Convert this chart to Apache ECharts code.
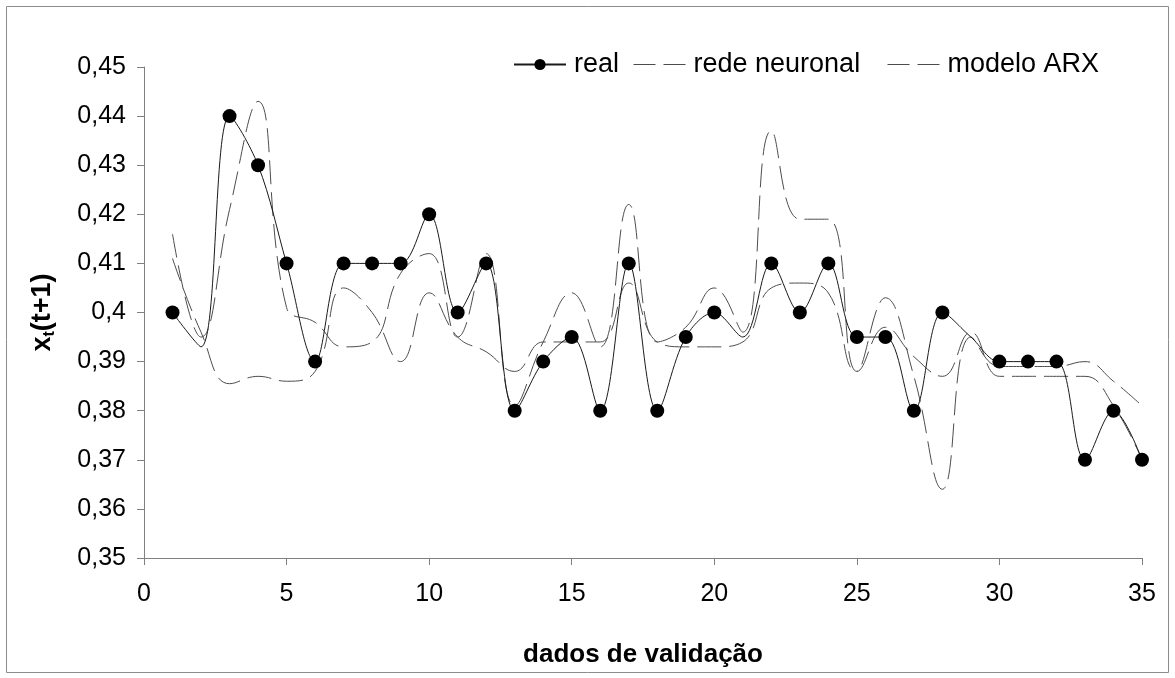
<!DOCTYPE html>
<html>
<head>
<meta charset="utf-8">
<script src="https://cdn.jsdelivr.net/npm/echarts@6/dist/echarts.min.js"></script>
<style>
  html, body { margin: 0; padding: 0; background: #fff; }
  #chart { width: 1175px; height: 678px; }
</style>
</head>
<body>
<div id="chart"></div>
<script>
// dados de validação (1..35)
const xs = [1, 2, 3, 4, 5, 6, 7, 8, 9, 10, 11, 12, 13, 14, 15, 16, 17, 18, 19, 20,
  21, 22, 23, 24, 25, 26, 27, 28, 29, 30, 31, 32, 33, 34, 35]

const real = [0.40, 0.393, 0.44, 0.43, 0.41, 0.39, 0.41, 0.41, 0.41, 0.42,
  0.40, 0.41, 0.38, 0.39, 0.395, 0.38, 0.41, 0.38, 0.395, 0.40,
  0.395, 0.41, 0.40, 0.41, 0.395, 0.395, 0.38, 0.40, 0.395, 0.39,
  0.39, 0.39, 0.37, 0.38, 0.37]

const redeNeuronal = [0.416, 0.395, 0.421, 0.443, 0.401, 0.398, 0.393, 0.394, 0.408, 0.412,
  0.395, 0.412, 0.381, 0.394, 0.404, 0.393, 0.422, 0.394, 0.397, 0.405,
  0.396, 0.437, 0.419, 0.419, 0.388, 0.403, 0.387, 0.364, 0.395, 0.389,
  0.389, 0.389, 0.390, 0.386, 0.381]

const modeloARX = [0.411, 0.396, 0.3855, 0.387, 0.386, 0.388, 0.405, 0.400, 0.390, 0.404,
  0.395, 0.392, 0.388, 0.394, 0.394, 0.394, 0.406, 0.394, 0.393, 0.393,
  0.394, 0.405, 0.406, 0.404, 0.388, 0.397, 0.391, 0.387, 0.396, 0.387,
  0.387, 0.387, 0.387, 0.381, 0.370]

// pontos reais sem marcador visível no original
const noMarker = [2, 21, 29]

const xTicks = { min: 0, max: 35, interval: 5 }
const yTicks = { min: 0.35, max: 0.45, interval: 0.01 }

const realData = xs.map((x, i) => noMarker.includes(x)
  ? { value: [x, real[i]], symbol: "none" }
  : [x, real[i]])
const pairs = (arr) => xs.map((x, i) => [x, arr[i]])

const myChart = echarts.init(document.getElementById("chart"))

const dash = [24, 8]

const legendBase = {
  top: 46,
  itemWidth: 52,
  itemHeight: 14,
  itemGap: 8,
  textStyle: { fontFamily: "Liberation Sans, Arial", fontSize: 27, color: "#000", padding: [0, 0, 0, 3] }
}
const dashedLegend = {
  itemStyle: { opacity: 0 },
  lineStyle: { type: [22, 8], width: 1, color: "#4d4d4d" }
}

myChart.setOption({
  animation: false,
  backgroundColor: "#fff",
  graphic: [
    {
      type: "rect",
      shape: { x: 6.5, y: 6.5, width: 1162, height: 666 },
      style: { fill: "none", stroke: "#8c8c8c", lineWidth: 1 }
    }
  ],
  legend: [
    Object.assign({}, legendBase, { left: 508, data: ["real"] }),
    Object.assign({}, legendBase, dashedLegend, { left: 628, data: ["rede neuronal"] }),
    Object.assign({}, legendBase, dashedLegend, { left: 882, data: ["modelo ARX"] })
  ],
  grid: {
    left: 144,
    right: 33,
    top: 67,
    bottom: 120
  },
  xAxis: {
    type: "value",
    min: xTicks.min,
    max: xTicks.max,
    interval: xTicks.interval,
    name: "dados de validação",
    nameLocation: "middle",
    nameGap: 84,
    nameTextStyle: { fontFamily: "Liberation Sans, Arial", fontSize: 26, fontWeight: "bold", color: "#000" },
    axisLine: { onZero: false, lineStyle: { color: "#808080", width: 1 } },
    axisTick: { length: 7, lineStyle: { color: "#808080" } },
    axisLabel: { fontFamily: "Liberation Sans, Arial", fontSize: 25, color: "#000", margin: 24 },
    splitLine: { show: false }
  },
  yAxis: {
    type: "value",
    min: yTicks.min,
    max: yTicks.max,
    interval: yTicks.interval,
    name: "x{sub|t}(t+1)",
    nameLocation: "middle",
    nameGap: 86,
    nameRotate: 90,
    nameTextStyle: {
      fontFamily: "Liberation Sans, Arial", fontSize: 27, fontWeight: "bold", color: "#000",
      rich: {
        sub: { fontFamily: "Liberation Sans, Arial", fontSize: 16, fontWeight: "bold", color: "#000", verticalAlign: "bottom", padding: [14, 0, 0, 0] }
      }
    },
    axisLine: { show: true, onZero: false, lineStyle: { color: "#808080", width: 1 } },
    axisTick: { show: true, length: 7, lineStyle: { color: "#808080" } },
    axisLabel: {
      fontFamily: "Liberation Sans, Arial", fontSize: 25, color: "#000", margin: 18,
      formatter: (v) => String(+v.toFixed(2)).replace(".", ",")
    },
    splitLine: { show: false }
  },
  series: [
    {
      name: "rede neuronal",
      type: "line",
      data: pairs(redeNeuronal),
      smooth: 0.45,
      symbol: "none",
      lineStyle: { color: "#4d4d4d", width: 1, type: dash },
      itemStyle: { color: "#4d4d4d" },
      z: 2
    },
    {
      name: "modelo ARX",
      type: "line",
      data: pairs(modeloARX),
      smooth: 0.45,
      symbol: "none",
      lineStyle: { color: "#4d4d4d", width: 1, type: dash },
      itemStyle: { color: "#4d4d4d" },
      z: 2
    },
    {
      name: "real",
      type: "line",
      data: realData,
      smooth: 0.35,
      symbol: "circle",
      symbolSize: 14,
      showAllSymbol: true,
      lineStyle: { color: "#1a1a1a", width: 1 },
      itemStyle: { color: "#000" },
      z: 3
    }
  ]
})

window.addEventListener("resize", () => {
  myChart.resize()
})
</script>
</body>
</html>
